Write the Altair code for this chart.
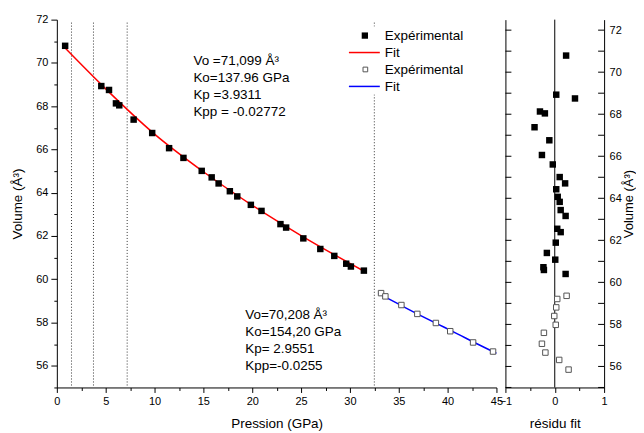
import altair as alt
import pandas as pd

FONT = "Liberation Sans"

# ---- data ----
pressure_a = [0.85, 4.55, 5.34, 6.05, 6.39, 7.86, 9.76, 11.49, 12.96, 14.83, 15.85, 16.56,
              17.71, 18.47, 19.86, 20.95, 22.89, 23.47, 25.23, 26.97, 28.40, 29.62, 30.10, 31.43]
volume_a = [70.79, 68.93, 68.75, 68.13, 68.04, 67.38, 66.76, 66.06, 65.61, 65.01, 64.71, 64.43,
            64.07, 63.83, 63.44, 63.16, 62.55, 62.39, 61.89, 61.40, 61.08, 60.72, 60.59, 60.40]
resid_a = [0.23, 0.03, 0.41, -0.30, -0.20, -0.41, -0.11, -0.26, -0.04, 0.10, 0.21, 0.03,
           0.06, 0.10, 0.12, 0.22, 0.05, 0.12, 0.02, -0.16, 0.01, -0.23, -0.22, 0.22]

pressure_b = [33.19, 33.63, 35.27, 36.90, 38.80, 40.27, 42.61, 44.65]
volume_b = [59.36, 59.21, 58.81, 58.40, 57.98, 57.60, 57.08, 56.66, 56.31, 55.85]
resid_b = [0.24, 0.05, 0.03, -0.01, 0.02, -0.22, -0.26, -0.19, 0.09, 0.28]

fit_a_p = [0.6, 5, 10, 15, 20, 25, 31.5]
fit_a_v = [70.80, 68.80, 66.71, 64.97, 63.42, 62.02, 60.36]
fit_b_p = [32.9, 35, 37, 39, 41, 43, 45]
fit_b_v = [59.35, 58.85, 58.38, 57.93, 57.48, 57.02, 56.58]

guide_p = [1.5, 3.75, 7.2, 32.5]

x_ticks = [0, 2.5, 5, 7.5, 10, 12.5, 15, 17.5, 20, 22.5, 25, 27.5, 30, 32.5, 35, 37.5, 40, 42.5, 45]
v_ticks = [55, 56, 57, 58, 59, 60, 61, 62, 63, 64, 65, 66, 67, 68, 69, 70, 71, 72]
v_labels = [56, 58, 60, 62, 64, 66, 68, 70, 72]
r_ticks = [-1, -0.5, 0, 0.5, 1]

annot_a = ["Vo =71,099 Å³", "Ko=137.96  GPa", "Kp =3.9311", "Kpp = -0.02772"]
annot_b = ["Vo=70,208 Å³", "Ko=154,20 GPa", "Kp= 2.9551", "Kpp=-0.0255"]
legend_labels = ["Expérimental", "Fit", "Expérimental", "Fit"]

# ---- tables ----
pts_a = pd.DataFrame({"P": pressure_a, "V": volume_a})
pts_b = pd.DataFrame({"P": pressure_b, "V": volume_b[:len(pressure_b)]})
fit_a = pd.DataFrame({"P": fit_a_p, "V": fit_a_v})
fit_b = pd.DataFrame({"P": fit_b_p, "V": fit_b_v})
guides = pd.DataFrame({"P": guide_p})
res_a = pd.DataFrame({"r": resid_a, "V": volume_a})
res_b = pd.DataFrame({"r": resid_b, "V": volume_b})
vt = pd.DataFrame({"V": v_ticks})
zero = pd.DataFrame({"r": [0]})
one = pd.DataFrame({"k": [0]})

W_MAIN, W_RES, H = 441, 99, 369

xs = alt.Scale(domain=[0, 45], nice=False, zero=False)
ys = alt.Scale(domain=[55, 72], nice=False, zero=False)
rxs = alt.Scale(domain=[-1, 1], nice=False, zero=False)
rys = alt.Scale(domain=[55, 72.5], nice=False, zero=False)

x_axis = alt.Axis(title="Pression (GPa)", values=x_ticks,
                  labelExpr="datum.value % 5 == 0 ? datum.label : ''",
                  tickSize={"condition": {"test": "datum.value % 5 == 0", "value": 5}, "value": 3},
                  labelPadding=3, titlePadding=10, labelFlush=False)
y_axis = alt.Axis(title="Volume (Å³)", values=v_ticks,
                  labelExpr="datum.value % 2 == 0 ? datum.label : ''",
                  tickSize={"condition": {"test": "datum.value % 2 == 0", "value": 6}, "value": 3},
                  labelPadding=3, titlePadding=11)

X = alt.X("P:Q", scale=xs, axis=x_axis)
Y = alt.Y("V:Q", scale=ys, axis=y_axis)

guide_layer = alt.Chart(guides).mark_rule(color="#333333", strokeDash=[1, 2], strokeWidth=1).encode(
    x=X, y=alt.value(3), y2=alt.value(H))
legend_bg = alt.Chart(one).mark_rect(fill="white").encode(
    x=alt.value(288), x2=alt.value(413), y=alt.value(7), y2=alt.value(75))
line_a = alt.Chart(fit_a).mark_line(color="#ff0000", strokeWidth=1.5, interpolate="monotone").encode(x=X, y=Y)
line_b = alt.Chart(fit_b).mark_line(color="#0000ff", strokeWidth=1.5, interpolate="monotone").encode(x=X, y=Y)
sq_a = alt.Chart(pts_a).mark_point(shape="square", filled=True, color="black", size=42, opacity=1).encode(x=X, y=Y)
sq_b = alt.Chart(pts_b).mark_point(shape="square", filled=True, fill="white", stroke="#555555",
                                   strokeWidth=1, size=30, opacity=1).encode(x=X, y=Y)
txt_a = alt.Chart(one).mark_text(text=annot_a, lineHeight=17, align="left", baseline="alphabetic",
                                 font=FONT, fontSize=13.5, color="black").encode(
    x=alt.value(137), y=alt.value(46))
txt_b = alt.Chart(one).mark_text(text=annot_b, lineHeight=17, align="left", baseline="alphabetic",
                                 font=FONT, fontSize=13.5, color="black").encode(
    x=alt.value(189), y=alt.value(300))
leg_sq_a = alt.Chart(one).mark_point(shape="square", filled=True, color="black", size=40, opacity=1).encode(
    x=alt.value(309), y=alt.value(16))
leg_line_a = alt.Chart(one).mark_rule(color="#ff0000", strokeWidth=1.5).encode(
    x=alt.value(293), x2=alt.value(324), y=alt.value(33))
leg_sq_b = alt.Chart(one).mark_point(shape="square", filled=True, fill="white", stroke="#555555",
                                     strokeWidth=1, size=22, opacity=1).encode(x=alt.value(309.5), y=alt.value(50))
leg_line_b = alt.Chart(one).mark_rule(color="#0000ff", strokeWidth=1.5).encode(
    x=alt.value(293), x2=alt.value(324), y=alt.value(67))
leg_txt = alt.Chart(one).mark_text(text=legend_labels, lineHeight=17.2, align="left", baseline="alphabetic",
                                   font=FONT, fontSize=13.5, color="black").encode(
    x=alt.value(329), y=alt.value(20.5))

main = alt.layer(guide_layer, legend_bg, line_a, line_b, sq_a, sq_b, txt_a, txt_b,
                 leg_sq_a, leg_line_a, leg_sq_b, leg_line_b, leg_txt).properties(width=W_MAIN, height=H)

# ---- residual panel ----
rx_axis = alt.Axis(title="résidu fit", values=r_ticks,
                   labelExpr="datum.value % 1 == 0 ? format(datum.value, 'd') : ''",
                   tickSize={"condition": {"test": "datum.value % 1 == 0", "value": 5}, "value": 3},
                   labelPadding=3, titlePadding=10, labelFlush=False)
ry_right = alt.Axis(orient="right", title="Volume (Å³)", values=v_labels, ticks=False,
                    labelPadding=5, titlePadding=1, titleAngle=270, titleBaseline="top",
                    titleFontSize=13)
ry_left = alt.Axis(orient="left", title=None, labels=False, ticks=False)

RX = alt.X("r:Q", scale=rxs, axis=rx_axis)
RYR = alt.Y("V:Q", scale=rys, axis=ry_right)
RYL = alt.Y("V:Q", scale=rys, axis=ry_left)

left_ticks = alt.Chart(vt).mark_rule(color="black", strokeWidth=1).encode(
    y=RYL, x=alt.value(0), x2=alt.value(6))
zero_line = alt.Chart(zero).mark_rule(color="black", strokeWidth=1).encode(x=RX)
right_ticks = alt.Chart(vt).mark_rule(color="black", strokeWidth=1).encode(
    y=RYR, x=alt.value(W_RES - 6), x2=alt.value(W_RES))
rsq_a = alt.Chart(res_a).mark_point(shape="square", filled=True, color="black", size=42, opacity=1).encode(x=RX, y=RYR)
rsq_b = alt.Chart(res_b).mark_point(shape="square", filled=True, fill="white", stroke="#555555",
                                    strokeWidth=1, size=30, opacity=1).encode(x=RX, y=RYR)

inner = alt.layer(zero_line, right_ticks, rsq_a, rsq_b)
resid = alt.layer(left_ticks, inner).resolve_axis(y="independent").properties(width=W_RES, height=H)

chart = alt.hconcat(main, resid, spacing=9, bounds="flush").properties(
    padding={"left": 2, "top": 5, "right": 0, "bottom": 0}
).configure_view(stroke=None).configure_axis(
    grid=False, domainColor="black", tickColor="black", labelColor="black", titleColor="black",
    labelFont=FONT, titleFont=FONT, labelFontSize=11, titleFontSize=13.5, titleFontWeight="normal",
    domainWidth=1, tickWidth=1
)

chart.save("out.html", embed_options={"renderer": "svg", "actions": False})
